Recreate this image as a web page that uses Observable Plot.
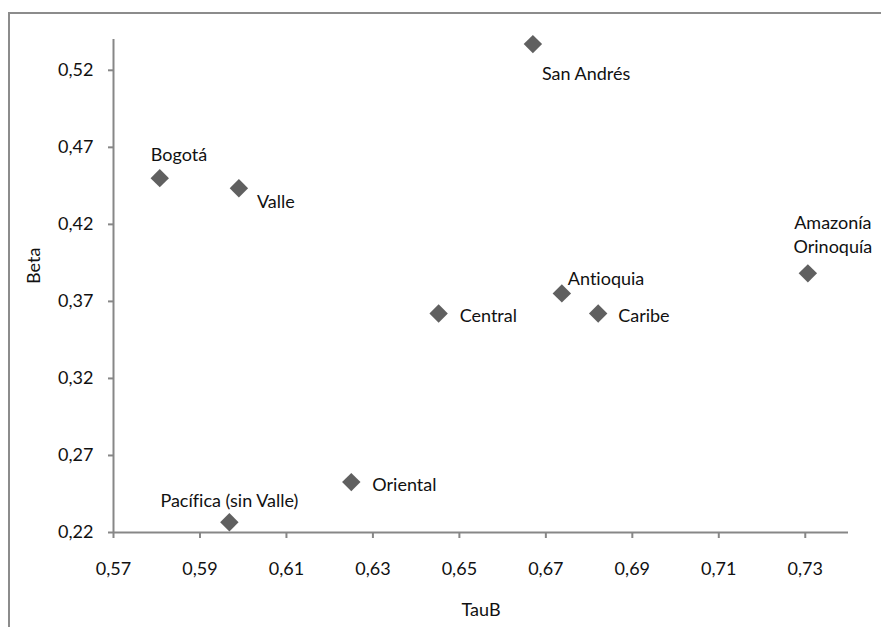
<!DOCTYPE html>
<html>
<head>
<meta charset="utf-8">
<script src="https://cdn.jsdelivr.net/npm/d3@7"></script>
<script src="https://cdn.jsdelivr.net/npm/@observablehq/plot@0.6"></script>
<style>
  html, body { margin: 0; padding: 0; background: #fff; }
  #wrap { position: relative; width: 881px; height: 627px; overflow: hidden; }
  #border { position: absolute; left: 8px; top: 12px; width: 900px; height: 700px; border: 2px solid #8c8c8c; box-sizing: border-box; }
  #chart { position: absolute; left: 0; top: 0; }
  #chart svg text { font-variant-ligatures: none; }
</style>
</head>
<body>
<div id="wrap"><div id="border"></div><div id="chart"></div></div>
<script>
const regions = ["San Andrés", "Bogotá", "Valle", "Central", "Antioquia", "Caribe", "Amazonía\nOrinoquía", "Oriental", "Pacífica (sin Valle)"];
const tauB = [0.667, 0.5807, 0.599, 0.6452, 0.6737, 0.6821, 0.7306, 0.625, 0.5968];
const beta = [0.537, 0.450, 0.4435, 0.3622, 0.3752, 0.3622, 0.3882, 0.2527, 0.2267];
const xTicks = [0.57, 0.59, 0.61, 0.63, 0.65, 0.67, 0.69, 0.71, 0.73];
const yTicks = [0.22, 0.27, 0.32, 0.37, 0.42, 0.47, 0.52];

const data = regions.map((name, i) => ({name, x: tauB[i], y: beta[i]}));

// label placement (layout, not data)
const placement = {
  "San Andrés": {dx: 9, dy: 28, anchor: "start"},
  "Bogotá": {dx: -9, dy: -25, anchor: "start"},
  "Valle": {dx: 18, dy: 12, anchor: "start"},
  "Central": {dx: 21, dy: 1, anchor: "start"},
  "Antioquia": {dx: 6, dy: -16, anchor: "start"},
  "Caribe": {dx: 20, dy: 1, anchor: "start"},
  "Amazonía\nOrinoquía": {dx: 25, dy: -40, anchor: "middle"},
  "Oriental": {dx: 21, dy: 1, anchor: "start"},
  "Pacífica (sin Valle)": {dx: 0, dy: -23, anchor: "middle"}
};

const fmt = d => d.toFixed(2).replace(".", ",");
const gray = "#878787";

const labelMarks = data.map(d => {
  const p = placement[d.name];
  return Plot.text([d], {x: "x", y: "y", text: "name", dx: p.dx, dy: p.dy, textAnchor: p.anchor,
    lineAnchor: "middle", lineHeight: 1.33, fill: "#111", fontSize: 18});
});

const chart = Plot.plot({
  width: 881,
  height: 627,
  marginLeft: 113,
  marginRight: 33,
  marginTop: 39,
  marginBottom: 95,
  style: {fontFamily: "Lato, sans-serif", fontSize: "18px", background: "transparent", overflow: "visible"},
  x: {domain: [0.57, 0.74]},
  y: {domain: [0.22, 0.54]},
  marks: [
    Plot.ruleX([0.57], {stroke: gray, strokeWidth: 2}),
    Plot.ruleY([0.22], {stroke: gray, strokeWidth: 2}),
    Plot.axisX({ticks: xTicks, tickFormat: fmt, tickSize: 6, tickPadding: 24, stroke: gray, strokeWidth: 2, strokeOpacity: 1, fill: "#111", label: null, fontSize: 18}),
    Plot.axisY({ticks: yTicks, tickFormat: fmt, tickSize: 5, tickPadding: 15, stroke: gray, strokeWidth: 2, strokeOpacity: 1, fill: "#111", label: null, fontSize: 18}),
    Plot.text(["TauB"], {frameAnchor: "bottom", dy: 78, text: d => d, fill: "#111", fontSize: 18, lineAnchor: "middle"}),
    Plot.text(["Beta"], {frameAnchor: "left", dx: -79, dy: -2, text: d => d, rotate: -90, fill: "#111", fontSize: 18, lineAnchor: "middle"}),
    Plot.dot(data, {x: "x", y: "y", symbol: "diamond2", r: 8.3, fill: "#606060", stroke: "none"}),
    ...labelMarks
  ]
});
document.getElementById("chart").appendChild(chart);
</script>
</body>
</html>
